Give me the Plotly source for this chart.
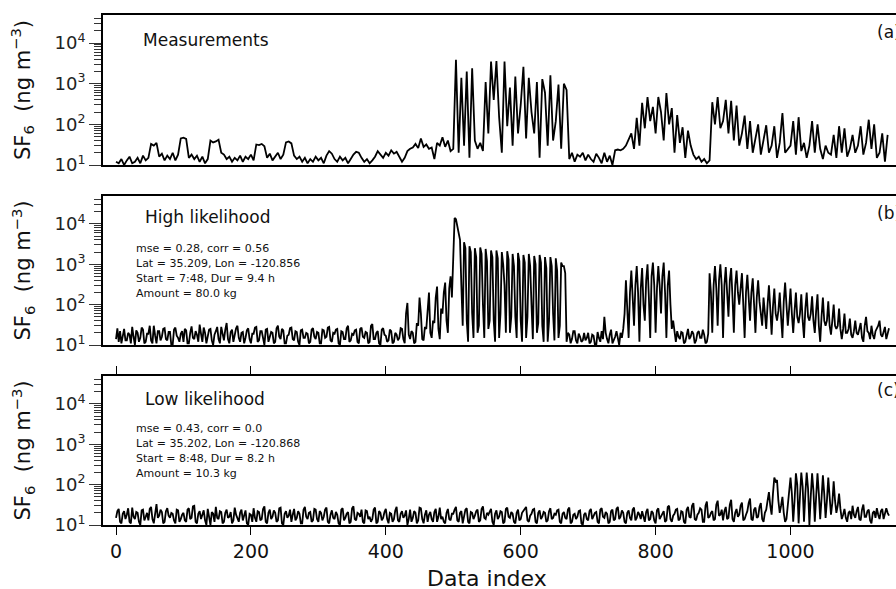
import plotly.graph_objects as go

# ---------------- data (values in ng m^-3) ----------------
# Measurements read every 4th data index
measurements = (
    [12, 11, 14, 10, 13, 16, 11, 12, 15, 11, 17, 13, 15, 33, 30, 35, 16, 19, 13, 17, 14, 20, 13, 18, 45] +
    [47, 44, 15, 18, 14, 17, 12, 16, 11, 14, 40, 36, 38, 42, 20, 18, 14, 16, 12, 15, 13, 17, 12, 16, 14] +
    [18, 13, 32, 31, 33, 29, 15, 19, 13, 16, 20, 14, 18, 36, 38, 34, 17, 14, 16, 12, 15, 11, 14, 12, 16] +
    [13, 15, 11, 17, 22, 19, 14, 12, 16, 13, 15, 11, 14, 18, 21, 20, 15, 12, 14, 11, 13, 16, 22, 18, 15] +
    [20, 17, 23, 19, 21, 16, 12, 15, 22, 25, 27, 33, 26, 45, 28, 32, 25, 27, 14, 35, 30, 48, 28, 40, 22] +
    [25, 3900, 20, 1400, 30, 2000, 15, 2400, 40, 25, 35, 22, 1100, 60, 3500, 400, 3600, 150, 20, 3500, 90, 800, 30, 1500, 60] +
    [300, 2600, 45, 1400, 200, 60, 1100, 15, 1300, 600, 30, 1600, 40, 120, 950, 25, 1000, 700, 14, 20, 12, 18, 16, 20, 13] +
    [18, 14, 12, 19, 15, 11, 20, 12, 17, 10, 23, 24, 23, 25, 30, 45, 60, 25, 145, 30, 340, 80, 470, 120, 270] +
    [60, 470, 200, 40, 590, 100, 250, 20, 170, 35, 85, 15, 70, 30, 18, 14, 16, 12, 14, 11, 13, 350, 100, 470, 80] +
    [120, 400, 60, 380, 40, 290, 30, 60, 165, 25, 120, 20, 45, 100, 18, 40, 95, 20, 30, 90, 15, 35, 190, 20, 25] +
    [30, 120, 18, 150, 22, 35, 15, 30, 120, 20, 100, 25, 14, 30, 20, 18, 55, 15, 90, 20, 80, 16, 25, 55, 20] +
    [30, 90, 18, 35, 130, 25, 100, 15, 20, 60, 12, 55]
)
# Model runs read every 2nd data index
high_likelihood = (
    [14, 26, 12, 22, 11, 18, 25, 13, 13, 20, 18, 11, 28, 16, 10, 23, 20, 12, 15, 27, 24, 11, 12, 19, 19,
     30, 13, 11, 30, 17, 11, 22, 22, 13, 16, 25, 26, 14, 13, 21, 21, 10, 10, 24, 27, 17, 15, 12, 19, 22] +
    [12, 25, 23, 11, 11, 20, 29, 15, 14, 22, 18, 12, 32, 19, 12, 27, 20, 11, 16, 24, 25, 13, 10, 18, 22,
     28, 14, 11, 28, 17, 13, 24, 35, 14, 11, 21, 24, 12, 17, 26, 30, 15, 12, 20, 21, 11, 15, 23, 26, 14] +
    [11, 19, 19, 27, 28, 12, 13, 22, 22, 15, 10, 24, 25, 12, 16, 21, 20, 11, 12, 26, 30, 16, 14, 25, 23,
     11, 11, 17, 18, 26, 27, 14, 13, 22, 21, 12, 10, 23, 24, 15, 15, 20, 19, 11, 12, 24, 26, 16, 14, 21] +
    [20, 11, 11, 24, 23, 15, 16, 27, 28, 13, 12, 20, 19, 24, 25, 11, 10, 22, 21, 14, 14, 26, 30, 12, 13,
     19, 18, 23, 24, 12, 11, 25, 27, 16, 15, 21, 20, 11, 12, 30, 33, 14, 14, 20, 22, 11, 10, 24, 26, 18] +
    [17, 12, 13, 24, 22, 11, 12, 20, 18, 13, 15, 26, 25, 14, 11, 60, 110, 18, 14, 22, 20, 11, 12, 35, 30,
     150, 60, 14, 13, 28, 25, 90, 200, 20, 15, 40, 35, 150, 280, 25, 14, 80, 60, 200, 350, 40, 20, 250, 500, 150] +
    [3000, 14000, 13000, 9000, 6000, 4000, 300, 30, 3500, 2500, 40, 12, 2800, 2000, 60, 15, 2500, 1500, 20, 30,
     2600, 1800, 100, 15, 2400, 1200, 25, 40, 2200, 1500, 40, 12, 2200, 1400, 15, 60, 2000, 1000, 300, 20,
     2100, 1300, 20, 50, 1800, 900, 50, 15, 1900, 1200] +
    [40, 12, 1700, 1100, 15, 50, 1800, 900, 100, 14, 1600, 1000, 20, 35, 1700, 1100, 30, 12, 1500, 800,
     12, 40, 1500, 900, 60, 13, 1400, 700, 15, 30, 1100, 900, 900, 600, 12, 20, 18, 11, 14, 22,
     22, 13, 11, 19, 16, 12, 13, 20, 13, 15] +
    [20, 11, 12, 18, 17, 10, 10, 21, 15, 12, 22, 14, 50, 20, 14, 11, 18, 24, 11, 13, 16, 22, 13, 10, 20,
     15, 25, 60, 400, 100, 15, 200, 700, 150, 30, 300, 900, 200, 12, 250, 800, 100, 40, 400, 1000, 150, 15, 500, 1100, 300] +
    [20, 250, 900, 300, 60, 500, 1100, 200, 15, 300, 700, 100, 25, 40, 18, 12, 22, 16, 14, 21, 20, 11, 12, 18, 25,
     14, 16, 22, 19, 11, 13, 20, 22, 15, 15, 24, 18, 11, 12, 19, 600, 200, 20, 300, 900, 250, 30, 400, 1000, 300] +
    [15, 300, 850, 200, 50, 400, 800, 150, 20, 300, 700, 200, 100, 250, 600, 100, 15, 200, 550, 150, 40, 200, 450, 100, 20,
     150, 400, 120, 60, 30, 150, 60, 25, 100, 300, 80, 18, 90, 250, 60, 40, 70, 200, 50, 15, 120, 350, 100, 30, 80] +
    [250, 60, 20, 70, 200, 50, 35, 60, 180, 40, 15, 80, 200, 50, 40, 60, 160, 40, 20, 70, 180, 30, 12, 50, 150,
     40, 30, 40, 120, 30, 18, 40, 100, 30, 25, 30, 80, 25, 14, 25, 60, 20, 20, 25, 45, 18, 15, 22, 40, 20] +
    [18, 25, 35, 15, 12, 30, 50, 22, 20, 14, 30, 18, 14, 22, 25, 30, 40, 18, 16, 22, 28, 14, 20, 26]
)
low_likelihood = (
    [15, 22, 25, 12, 11, 19, 22, 14, 18, 26, 12, 11, 27, 16, 14, 21, 20, 12, 10, 23, 24, 13, 16, 20, 13,
     25, 28, 14, 11, 18, 33, 15, 17, 24, 21, 11, 12, 22, 26, 17, 15, 20, 19, 13, 11, 24, 23, 12, 14, 18] +
    [20, 13, 12, 24, 26, 14, 15, 29, 30, 12, 11, 19, 22, 14, 17, 23, 13, 10, 25, 16, 10, 21, 19, 12, 28,
     15, 14, 22, 21, 11, 12, 20, 24, 15, 16, 21, 11, 13, 27, 18, 15, 12, 20, 24, 13, 17, 23, 11, 10, 19] +
    [18, 12, 26, 15, 12, 22, 21, 13, 14, 25, 29, 12, 11, 20, 24, 14, 16, 23, 20, 12, 13, 26, 27, 11, 10,
     19, 22, 15, 17, 24, 12, 18, 25, 13, 15, 22, 19, 11, 11, 24, 28, 16, 14, 20, 21, 12, 13, 25, 24, 14] +
    [12, 22, 20, 13, 16, 24, 27, 12, 11, 18, 23, 15, 14, 21, 18, 11, 10, 24, 26, 13, 15, 19, 21, 11, 12,
     26, 29, 14, 13, 20, 19, 16, 24, 12, 11, 23, 22, 14, 16, 12, 14, 24, 27, 11, 12, 22, 20, 13, 15, 21] +
    [25, 14, 11, 20, 19, 12, 14, 23, 28, 13, 12, 19, 22, 15, 17, 23, 10, 14, 24, 12, 15, 22, 20, 11, 13,
     27, 26, 14, 11, 18, 23, 12, 18, 21, 14, 12, 21, 25, 12, 16, 27, 14, 16, 12, 11, 20, 25, 14, 13, 19] +
    [19, 24, 28, 13, 12, 20, 22, 11, 15, 24, 26, 12, 11, 21, 20, 14, 17, 22, 24, 12, 13, 25, 29, 15, 14,
     20, 18, 22, 25, 12, 10, 19, 23, 14, 16, 22, 21, 11, 12, 25, 27, 16, 15, 21, 19, 12, 11, 20, 24, 13] +
    [14, 20, 22, 25, 28, 13, 12, 17, 19, 24, 25, 12, 11, 20, 23, 14, 16, 21, 20, 12, 13, 22, 26, 14, 15,
     19, 18, 23, 24, 12, 11, 19, 21, 15, 14, 24, 27, 11, 12, 18, 19, 14, 16, 22, 23, 11, 10, 18, 20, 14] +
    [13, 22, 25, 14, 17, 20, 21, 12, 11, 24, 26, 16, 15, 21, 19, 11, 12, 22, 24, 13, 14, 25, 28, 14, 16,
     23, 20, 12, 11, 20, 23, 15, 13, 24, 27, 13, 15, 21, 18, 14, 22, 16, 12, 21, 25, 13, 14, 22, 20, 13] +
    [11, 23, 26, 14, 16, 19, 22, 12, 13, 28, 30, 14, 12, 17, 19, 24, 25, 13, 14, 22, 21, 12, 11, 24, 28,
     16, 15, 30, 35, 14, 13, 18, 20, 26, 24, 12, 12, 30, 38, 15, 16, 20, 22, 13, 14, 32, 40, 17, 18, 24] +
    [13, 22, 28, 14, 15, 32, 42, 14, 12, 20, 25, 16, 18, 30, 36, 13, 14, 18, 22, 35, 45, 14, 13, 24, 27,
     15, 16, 28, 35, 14, 12, 20, 24, 40, 65, 30, 18, 60, 150, 120, 130, 40, 20, 30, 50, 20, 12, 14, 30, 60] +
    [150, 60, 12, 40, 190, 100, 11, 50, 200, 90, 12, 60, 200, 80, 10, 50, 190, 70, 12, 50, 190, 60, 14, 45, 170,
     60, 15, 40, 150, 50, 18, 35, 120, 40, 20, 30, 60, 25, 14, 18, 25, 15, 12, 20, 22, 14, 30, 18, 15, 22] +
    [28, 14, 13, 24, 32, 16, 16, 22, 24, 13, 11, 20, 22, 15, 26, 18, 14, 22, 25, 14, 18, 26, 20, 17]
)
idx_meas = list(range(0, 4 * len(measurements), 4))
idx_high = list(range(0, 2 * len(high_likelihood), 2))
idx_low = list(range(0, 2 * len(low_likelihood), 2))

panel_titles = ["Measurements", "High likelihood", "Low likelihood"]
panel_letters = ["(a)", "(b)", "(c)"]
info_high = ["mse = 0.28, corr = 0.56", "Lat = 35.209, Lon = -120.856",
             "Start = 7:48, Dur = 9.4 h", "Amount = 80.0 kg"]
info_low = ["mse = 0.43, corr = 0.0", "Lat = 35.202, Lon = -120.868",
            "Start = 8:48, Dur = 8.2 h", "Amount = 10.3 kg"]
x_ticks = [0, 200, 400, 600, 800, 1000]
y_ticks = [10, 100, 1000, 10000]
y_ticktext = ["10<sup>1</sup>", "10<sup>2</sup>", "10<sup>3</sup>", "10<sup>4</sup>"]

# ---------------- layout geometry (pixels) ----------------
W, H = 896, 589
L, R, T, B = 103, 0, 15, 64
PW, PH = W - L - R, H - T - B
BOTTOM_PX = H - B


def py(p):  # pixel y -> paper y
    return (BOTTOM_PX - p) / PH


def px(p):  # pixel x -> paper x
    return (p - L) / PW


panels_px = [(15, 165), (196, 345), (376, 525)]
FONT = "DejaVu Sans"
series = [(idx_meas, measurements), (idx_high, high_likelihood), (idx_low, low_likelihood)]

minor_vals = [m * 10 ** e for e in range(1, 5) for m in range(2, 10) if m * 10 ** e <= 50000]

fig = go.Figure()
for i, (xs, ys) in enumerate(series):
    fig.add_trace(go.Scatter(x=xs, y=ys, mode="lines",
                             line=dict(color="black", width=1.8),
                             xaxis="x" if i == 0 else f"x{i+1}",
                             yaxis="y" if i == 0 else f"y{i+1}",
                             showlegend=False, hoverinfo="skip"))

layout = dict(width=W, height=H, margin=dict(l=L, r=R, t=T, b=B),
              plot_bgcolor="white", paper_bgcolor="white",
              font=dict(family=FONT, color="black"))

xr = [-19.3, 1156.4]
for i, (top, bot) in enumerate(panels_px):
    k = "" if i == 0 else str(i + 1)
    last = i == 2
    layout[f"xaxis{k}"] = dict(
        domain=[0, 1], range=xr, anchor=f"y{k}",
        showline=True, linecolor="black", linewidth=2, mirror="ticks" if last else True,
        ticks="outside" if last else "", ticklen=8, tickwidth=1, tickcolor="black",
        tickvals=x_ticks, showticklabels=last, tickfont=dict(size=19, color="#111"),
        showgrid=False, zeroline=False, automargin=False)
    layout[f"yaxis{k}"] = dict(
        domain=[py(bot), py(top)], type="log", range=[1, 4.69], anchor=f"x{k}",
        showline=True, linecolor="black", linewidth=2, mirror=False,
        ticks="outside", ticklen=12, tickwidth=1, tickcolor="#333",
        tickmode="array", tickvals=y_ticks, ticktext=y_ticktext,
        tickfont=dict(size=18, color="#222"),
        minor=dict(ticks="outside", ticklen=7, tickwidth=1, tickcolor="#333",
                   tickmode="array", tickvals=minor_vals, showgrid=False),
        showgrid=False, zeroline=False, automargin=False)
fig.update_layout(**layout)

ann = []
for top, bot in panels_px:
    ann.append(dict(text="SF<sub>6</sub>  (ng m<sup>−3</sup>)", textangle=-90,
                    x=px(22), y=py((top + bot) / 2), xref="paper", yref="paper",
                    xanchor="center", yanchor="middle", showarrow=False,
                    font=dict(size=21, color="#111")))
title_pos = [(141, 40), (143, 217), (143, 399)]
for (tx, ty), t in zip(title_pos, panel_titles):
    ann.append(dict(text=t, x=px(tx), y=py(ty), xref="paper", yref="paper",
                    xanchor="left", yanchor="middle", showarrow=False,
                    font=dict(size=17, color="#111")))
letter_pos = [(875, 32), (875, 213), (875, 390)]
for (tx, ty), t in zip(letter_pos, panel_letters):
    ann.append(dict(text=t, x=px(tx), y=py(ty), xref="paper", yref="paper",
                    xanchor="left", yanchor="middle", showarrow=False,
                    font=dict(size=17, color="#111")))
for lines, y0 in [(info_high, 248), (info_low, 428)]:
    for j, line in enumerate(lines):
        ann.append(dict(text=line, x=px(134), y=py(y0 + 15 * j), xref="paper", yref="paper",
                        xanchor="left", yanchor="middle", showarrow=False,
                        font=dict(size=11, color="#111")))
ann.append(dict(text="Data index", x=px(487), y=py(578), xref="paper", yref="paper",
                xanchor="center", yanchor="middle", showarrow=False,
                font=dict(size=22, color="#111")))
fig.update_layout(annotations=ann)

fig.write_html("out.html", config={"displayModeBar": False},
               post_script="document.body.style.margin='0';document.body.style.overflow='hidden';")
